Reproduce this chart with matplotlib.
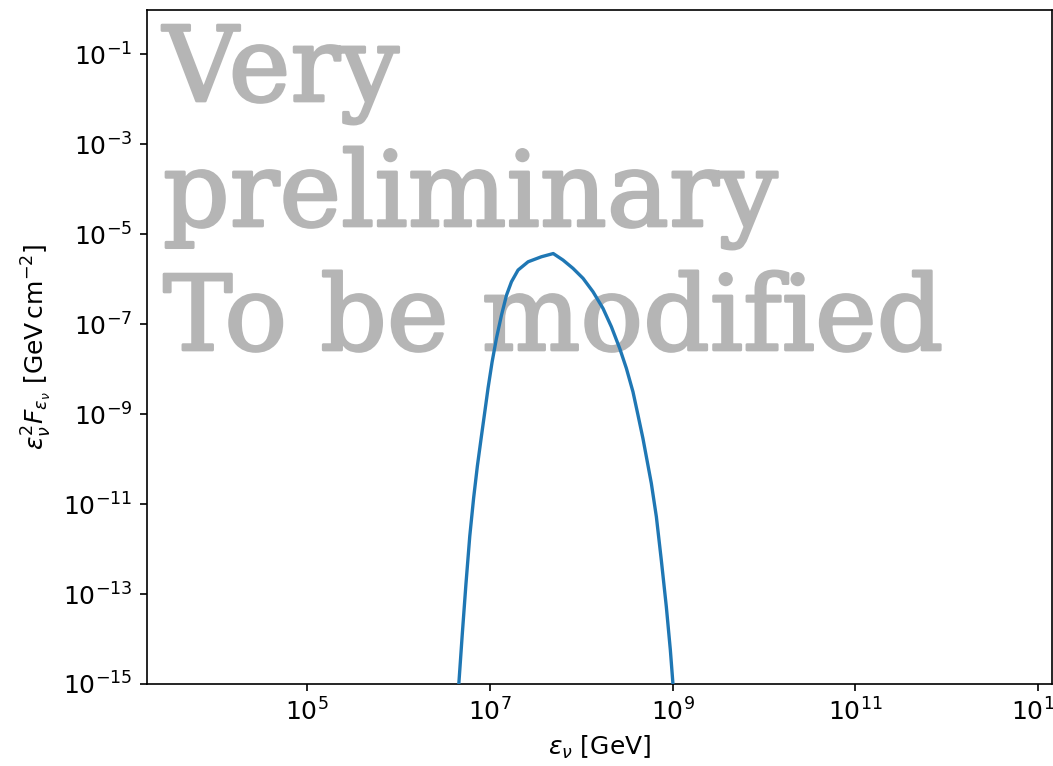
import numpy as np
import matplotlib
matplotlib.use("Agg")
import matplotlib.pyplot as plt
import matplotlib.patheffects as pe
from matplotlib.ticker import FixedLocator, LogFormatterSciNotation, NullLocator

# Curve (log10 energy [GeV], log10 flux [GeV cm^-2])
log_energy = [6.650, 6.661, 6.699, 6.739, 6.781, 6.823, 6.864, 6.907, 6.948,
              6.981, 7.025, 7.073, 7.128, 7.183, 7.237, 7.309, 7.419, 7.565,
              7.694, 7.801, 7.910, 8.020, 8.129, 8.238, 8.330, 8.421, 8.494,
              8.566, 8.621, 8.675, 8.767, 8.822, 8.876, 8.931, 8.975, 9.003,
              9.016]
log_flux = [-15.356, -15.000, -13.889, -12.778, -11.711, -10.867, -10.156,
            -9.511, -8.911, -8.422, -7.844, -7.311, -6.800, -6.356, -6.060,
            -5.800, -5.616, -5.504, -5.433, -5.578, -5.762, -5.984, -6.282,
            -6.651, -7.060, -7.540, -7.984, -8.504, -9.022, -9.540, -10.540,
            -11.282, -12.244, -13.282, -14.244, -14.984, -15.356]

xtick_exp = [5, 7, 9, 11, 13]
ytick_exp = [-15, -13, -11, -9, -7, -5, -3, -1]
watermark_lines = ["Very", "preliminary", "To be modified"]

energy = np.power(10.0, log_energy)
flux = np.power(10.0, log_flux)

plt.rcParams["font.size"] = 12
fig = plt.figure(figsize=(1053 / 150, 766 / 150), dpi=150)
ax = fig.add_axes([147 / 1053, (766 - 684) / 766, 905 / 1053, 674 / 766])
ax.plot(energy, flux, color="#1f77b4", lw=1.6, zorder=3)
ax.set_xscale("log")
ax.set_yscale("log")
ax.set_xlim(10 ** 3.25, 10 ** 13.15)
ax.set_ylim(1e-15, 10 ** -0.02)
ax.xaxis.set_major_locator(FixedLocator([10.0 ** e for e in xtick_exp]))
ax.yaxis.set_major_locator(FixedLocator([10.0 ** e for e in ytick_exp]))
ax.xaxis.set_major_formatter(LogFormatterSciNotation())
ax.yaxis.set_major_formatter(LogFormatterSciNotation())
ax.xaxis.set_minor_locator(NullLocator())
ax.yaxis.set_minor_locator(NullLocator())
ax.set_xlabel(r"$\varepsilon_\nu$ [GeV]")
ax.set_ylabel(r"$\varepsilon_\nu^2 F_{\varepsilon_\nu}$ [GeV$\,$cm$^{-2}$]")

baselines = [101, 226, 350]
for line, yb in zip(watermark_lines, baselines):
    ax.text(163 / 1053, 1 - yb / 766, line, transform=fig.transFigure,
            fontsize=50, family="DejaVu Serif",
            color="#b5b5b5", ha="left", va="baseline", zorder=1,
            path_effects=[pe.Stroke(linewidth=1.3, foreground="#b5b5b5")])

fig.savefig("out.png", dpi=150)
